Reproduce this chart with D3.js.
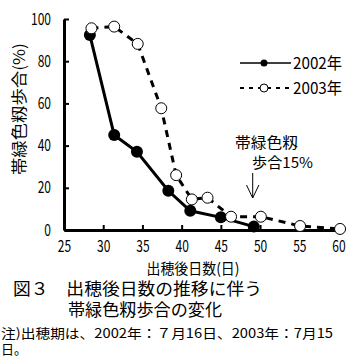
<!DOCTYPE html>
<html><head><meta charset="utf-8">
<script src="https://cdn.jsdelivr.net/npm/d3@7"></script>
<style>
body{margin:0;background:#fff;}
text{font-family:"Noto Sans CJK JP","Noto Sans",sans-serif;fill:#000;}
</style></head>
<body><svg id="c" width="357" height="364"></svg>
<script>
// data
const days2002 = [28.3, 31.4, 34.3, 38.3, 41.1, 45.0, 49.2];
const ratio2002 = [92.4, 45.0, 37.1, 18.6, 9.1, 6.0, 1.6];
const days2003 = [28.5, 31.4, 34.4, 37.4, 39.3, 41.3, 43.3, 46.3, 50.1, 55.1, 60.2];
const ratio2003 = [95.6, 96.4, 88.2, 57.7, 26.0, 14.5, 15.3, 6.3, 6.3, 1.9, 0.5];
const xTicks = [25, 30, 35, 40, 45, 50, 55, 60];
const yTicks = [0, 20, 40, 60, 80, 100];
const seriesNames = ["2002年", "2003年"];
const yTitle = "帯緑色籾歩合(%)";
const xTitle = "出穂後日数(日)";
const caption1 = "図３　出穂後日数の推移に伴う";
const caption2 = "帯緑色籾歩合の変化";
const note1 = "注)出穂期は、2002年：７月16日、2003年：7月15";
const note2 = "日。";
const annot1 = "帯緑色籾";
const annot2 = "歩合15%";

const svg = d3.select("#c");
const x = d3.scaleLinear().domain([25, 60]).range([64, 338.5]);
const y = d3.scaleLinear().domain([0, 100]).range([230, 19]);

// axes
const gx = svg.append("g").attr("transform", "translate(0,230)")
  .call(d3.axisBottom(x).tickValues(xTicks).tickSizeInner(-5).tickSizeOuter(0).tickPadding(11).tickFormat(d3.format("d")));
const gy = svg.append("g").attr("transform", "translate(64,0)")
  .call(d3.axisLeft(y).tickValues(yTicks).tickSizeInner(-5).tickSizeOuter(0).tickPadding(13).tickFormat(d3.format("d")));
[gx, gy].forEach(g => {
  g.select(".domain").attr("stroke", "#000").attr("stroke-width", 3);
  g.selectAll(".tick line").attr("stroke", "#000").attr("stroke-width", 2);
  g.selectAll(".tick text").attr("font-size", 16).attr("font-family", '"Noto Sans CJK JP"');
});
gx.selectAll(".tick text").attr("transform", "scale(0.75,1)");
gy.selectAll(".tick text").each(function(){
  d3.select(this).attr("transform", "scale(0.75,1)").attr("x", -13/0.75);
});

// lines
const line = d3.line().x(d => x(d[0])).y(d => y(d[1]));
const d02 = days2002.map((d, i) => [d, ratio2002[i]]);
const d03 = days2003.map((d, i) => [d, ratio2003[i]]);

svg.append("path").datum(d03).attr("d", line).attr("fill", "none")
  .attr("stroke", "#000").attr("stroke-width", 3).attr("stroke-dasharray", "7,6");
svg.append("path").datum(d02).attr("d", line).attr("fill", "none")
  .attr("stroke", "#000").attr("stroke-width", 3);

svg.selectAll("circle.s02").data(d02).enter().append("circle").attr("class", "s02")
  .attr("cx", d => x(d[0])).attr("cy", d => y(d[1])).attr("r", 6).attr("fill", "#000");
svg.selectAll("circle.s03").data(d03).enter().append("circle").attr("class", "s03")
  .attr("cx", d => x(d[0])).attr("cy", d => y(d[1])).attr("r", 5.5)
  .attr("fill", "#fff").attr("stroke", "#000").attr("stroke-width", 1);

// legend
const lg = svg.append("g");
lg.append("line").attr("x1", 240).attr("x2", 291).attr("y1", 63).attr("y2", 63).attr("stroke", "#000").attr("stroke-width", 1.5);
lg.append("circle").attr("cx", 264).attr("cy", 63).attr("r", 3.5).attr("fill", "#000");
lg.append("line").attr("x1", 240).attr("x2", 291).attr("y1", 88).attr("y2", 88).attr("stroke", "#000").attr("stroke-width", 2).attr("stroke-dasharray", "4,5");
lg.append("circle").attr("cx", 264).attr("cy", 88).attr("r", 4).attr("fill", "#fff").attr("stroke", "#000").attr("stroke-width", 1);
lg.selectAll("text").data(seriesNames).enter().append("text")
  .attr("x", 293).attr("y", (d, i) => 63 + i * 25).attr("dy", "0.35em")
  .attr("font-size", 16).attr("textLength", 49).attr("lengthAdjust", "spacingAndGlyphs").text(d => d);

// annotation
svg.append("text").attr("x", 235).attr("y", 143).attr("dy", "0.35em").attr("font-size", 15)
  .attr("textLength", 63).attr("lengthAdjust", "spacingAndGlyphs").text(annot1);
svg.append("text").attr("x", 252).attr("y", 163).attr("dy", "0.35em").attr("font-size", 15)
  .attr("textLength", 61).attr("lengthAdjust", "spacingAndGlyphs").text(annot2);
svg.append("path").attr("d", "M252.7,173V198M246.5,185L252.7,198L258.9,185")
  .attr("fill", "none").attr("stroke", "#000").attr("stroke-width", 1);

// axis titles
svg.append("text").attr("transform", "translate(19,109) rotate(-90)").attr("text-anchor", "middle")
  .attr("dy", "0.35em").attr("font-size", 16).attr("textLength", 132).attr("lengthAdjust", "spacingAndGlyphs").text(yTitle);
svg.append("text").attr("x", 193).attr("y", 269).attr("text-anchor", "middle").attr("dy", "0.35em")
  .attr("font-size", 15).attr("textLength", 93).attr("lengthAdjust", "spacingAndGlyphs").text(xTitle);

// caption
svg.append("text").attr("x", 13).attr("y", 289).attr("dy", "0.35em").attr("font-size", 17)
  .attr("textLength", 249).attr("lengthAdjust", "spacingAndGlyphs").text(caption1);
svg.append("text").attr("x", 68).attr("y", 310).attr("dy", "0.35em").attr("font-size", 17)
  .attr("textLength", 154).attr("lengthAdjust", "spacingAndGlyphs").text(caption2);
svg.append("text").attr("x", 1).attr("y", 333).attr("dy", "0.35em").attr("font-size", 13)
  .attr("textLength", 332).attr("lengthAdjust", "spacingAndGlyphs").text(note1);
svg.append("text").attr("x", 1).attr("y", 349).attr("dy", "0.35em").attr("font-size", 13).text(note2);
</script></body></html>
